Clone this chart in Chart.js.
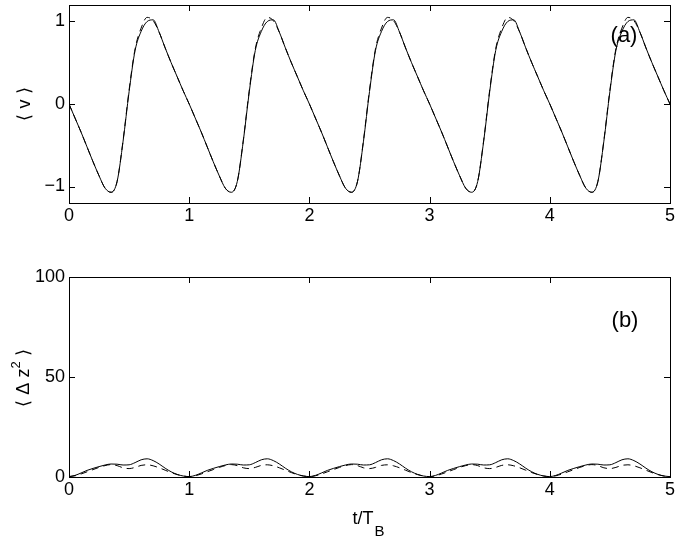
<!DOCTYPE html>
<html>
<head>
<meta charset="utf-8">
<script src="https://cdn.jsdelivr.net/npm/chart.js@4.4.1/dist/chart.umd.min.js"></script>
<style>
  body { margin: 0; background: #fff; }
  #wrap { position: relative; width: 681px; height: 536px; }
  canvas { position: absolute; left: 0; }
  #topChart { top: 0; }
  #bottomChart { top: 250px; }
</style>
</head>
<body>
<div id="wrap">
  <canvas id="topChart" width="681" height="250"></canvas>
  <canvas id="bottomChart" width="681" height="286"></canvas>
</div>
<script>
// time axis t/T_B, sampled every 0.05
const tValues = [
  0.00, 0.05, 0.10, 0.15, 0.20, 0.25, 0.30, 0.35, 0.40, 0.45, 0.50, 0.55, 0.60, 0.65, 0.70, 0.75, 0.80, 0.85, 0.90, 0.95,
  1.00, 1.05, 1.10, 1.15, 1.20, 1.25, 1.30, 1.35, 1.40, 1.45, 1.50, 1.55, 1.60, 1.65, 1.70, 1.75, 1.80, 1.85, 1.90, 1.95,
  2.00, 2.05, 2.10, 2.15, 2.20, 2.25, 2.30, 2.35, 2.40, 2.45, 2.50, 2.55, 2.60, 2.65, 2.70, 2.75, 2.80, 2.85, 2.90, 2.95,
  3.00, 3.05, 3.10, 3.15, 3.20, 3.25, 3.30, 3.35, 3.40, 3.45, 3.50, 3.55, 3.60, 3.65, 3.70, 3.75, 3.80, 3.85, 3.90, 3.95,
  4.00, 4.05, 4.10, 4.15, 4.20, 4.25, 4.30, 4.35, 4.40, 4.45, 4.50, 4.55, 4.60, 4.65, 4.70, 4.75, 4.80, 4.85, 4.90, 4.95,
  5.00
];

// panel (a): <v>
const vSolid = [
  0, -0.17, -0.34, -0.52, -0.70, -0.87, -1.02, -1.07, -0.94, -0.45, 0.15, 0.65, 0.88, 1.00, 1.02, 0.87, 0.68, 0.50, 0.33, 0.16,
  0, -0.17, -0.34, -0.52, -0.70, -0.87, -1.02, -1.07, -0.94, -0.45, 0.15, 0.65, 0.88, 1.00, 1.02, 0.87, 0.68, 0.50, 0.33, 0.16,
  0, -0.17, -0.34, -0.52, -0.70, -0.87, -1.02, -1.07, -0.94, -0.45, 0.15, 0.65, 0.88, 1.00, 1.02, 0.87, 0.68, 0.50, 0.33, 0.16,
  0, -0.17, -0.34, -0.52, -0.70, -0.87, -1.02, -1.07, -0.94, -0.45, 0.15, 0.65, 0.88, 1.00, 1.02, 0.87, 0.68, 0.50, 0.33, 0.16,
  0, -0.17, -0.34, -0.52, -0.70, -0.87, -1.02, -1.07, -0.94, -0.45, 0.15, 0.65, 0.88, 1.00, 1.02, 0.87, 0.68, 0.50, 0.33, 0.16,
  0
];
const vDashed = [
  0, -0.17, -0.34, -0.52, -0.70, -0.87, -1.02, -1.07, -0.94, -0.44, 0.17, 0.67, 0.92, 1.05, 1.01, 0.87, 0.68, 0.50, 0.33, 0.16,
  0, -0.17, -0.34, -0.52, -0.70, -0.87, -1.02, -1.07, -0.94, -0.44, 0.17, 0.67, 0.92, 1.05, 1.01, 0.87, 0.68, 0.50, 0.33, 0.16,
  0, -0.17, -0.34, -0.52, -0.70, -0.87, -1.02, -1.07, -0.94, -0.44, 0.17, 0.67, 0.92, 1.05, 1.01, 0.87, 0.68, 0.50, 0.33, 0.16,
  0, -0.17, -0.34, -0.52, -0.70, -0.87, -1.02, -1.07, -0.94, -0.44, 0.17, 0.67, 0.92, 1.05, 1.01, 0.87, 0.68, 0.50, 0.33, 0.16,
  0, -0.17, -0.34, -0.52, -0.70, -0.87, -1.02, -1.07, -0.94, -0.44, 0.17, 0.67, 0.92, 1.05, 1.01, 0.87, 0.68, 0.50, 0.33, 0.16,
  0
];

// panel (b): <dz^2>
const dzSolid = [
  0.2, 0.8, 2.0, 3.3, 4.3, 5.2, 6.0, 6.5, 6.4, 6.0, 6.1, 7.2, 8.6, 9.1, 8.2, 6.5, 4.4, 2.6, 1.3, 0.5,
  0.2, 0.8, 2.0, 3.3, 4.3, 5.2, 6.0, 6.5, 6.4, 6.0, 6.1, 7.2, 8.6, 9.1, 8.2, 6.5, 4.4, 2.6, 1.3, 0.5,
  0.2, 0.8, 2.0, 3.3, 4.3, 5.2, 6.0, 6.5, 6.4, 6.0, 6.1, 7.2, 8.6, 9.1, 8.2, 6.5, 4.4, 2.6, 1.3, 0.5,
  0.2, 0.8, 2.0, 3.3, 4.3, 5.2, 6.0, 6.5, 6.4, 6.0, 6.1, 7.2, 8.6, 9.1, 8.2, 6.5, 4.4, 2.6, 1.3, 0.5,
  0.2, 0.8, 2.0, 3.3, 4.3, 5.2, 6.0, 6.5, 6.4, 6.0, 6.1, 7.2, 8.6, 9.1, 8.2, 6.5, 4.4, 2.6, 1.3, 0.5,
  0.2
];
const dzDashed = [
  0.2, 0.6, 1.5, 2.6, 3.7, 4.8, 5.7, 6.2, 5.7, 4.6, 4.2, 4.8, 5.8, 6.1, 5.6, 4.6, 3.4, 2.2, 1.2, 0.5,
  0.2, 0.6, 1.5, 2.6, 3.7, 4.8, 5.7, 6.2, 5.7, 4.6, 4.2, 4.8, 5.8, 6.1, 5.6, 4.6, 3.4, 2.2, 1.2, 0.5,
  0.2, 0.6, 1.5, 2.6, 3.7, 4.8, 5.7, 6.2, 5.7, 4.6, 4.2, 4.8, 5.8, 6.1, 5.6, 4.6, 3.4, 2.2, 1.2, 0.5,
  0.2, 0.6, 1.5, 2.6, 3.7, 4.8, 5.7, 6.2, 5.7, 4.6, 4.2, 4.8, 5.8, 6.1, 5.6, 4.6, 3.4, 2.2, 1.2, 0.5,
  0.2, 0.6, 1.5, 2.6, 3.7, 4.8, 5.7, 6.2, 5.7, 4.6, 4.2, 4.8, 5.8, 6.1, 5.6, 4.6, 3.4, 2.2, 1.2, 0.5,
  0.2
];

const xTicks = [0, 1, 2, 3, 4, 5];
const yTicksTop = [-1, 0, 1];
const yTicksBottom = [0, 50, 100];

const FONT = "'Liberation Sans', Arial, Helvetica, sans-serif";

function toPoints(ys) {
    return tValues.map((t, i) => ({ x: t, y: ys[i] }));
}

function line(ys, dashed) {
    return {
        data: toPoints(ys),
        borderColor: "#000",
        borderWidth: 1,
        borderDash: dashed ? [7, 5] : [],
        pointRadius: 0,
        cubicInterpolationMode: "monotone",
        fill: false
    };
}

// box round the plot, ticks pointing inwards, panel letter and axis labels
const framePlugin = {
    id: "frame",
    afterDatasetsDraw(chart, args, opts) {
        const ctx = chart.ctx;
        const a = chart.chartArea;
        const xs = chart.scales.x;
        const ys = chart.scales.y;
        const len = 6;
        ctx.save();
        ctx.strokeStyle = "#000";
        ctx.lineWidth = 1;
        ctx.setLineDash([]);
        ctx.strokeRect(Math.round(a.left) + 0.5, Math.round(a.top) + 0.5,
            Math.round(a.right - a.left), Math.round(a.bottom - a.top));
        ctx.beginPath();
        xTicks.forEach(v => {
            const px = Math.round(xs.getPixelForValue(v)) + 0.5;
            ctx.moveTo(px, a.bottom); ctx.lineTo(px, a.bottom - len);
            ctx.moveTo(px, a.top); ctx.lineTo(px, a.top + len);
        });
        opts.yTicks.forEach(v => {
            const py = Math.round(ys.getPixelForValue(v)) + 0.5;
            ctx.moveTo(a.left, py); ctx.lineTo(a.left + len, py);
            ctx.moveTo(a.right, py); ctx.lineTo(a.right - len, py);
        });
        ctx.stroke();

        ctx.fillStyle = "#000";
        ctx.font = "22px " + FONT;
        ctx.textAlign = "center";
        ctx.textBaseline = "alphabetic";
        ctx.fillText(opts.panel, opts.panelX, opts.panelY);

        // y label, rotated
        ctx.save();
        ctx.translate(opts.yLabelX, opts.yLabelY);
        ctx.rotate(-Math.PI / 2);
        ctx.textBaseline = "middle";
        ctx.font = "18px " + FONT;
        if (opts.yLabelSup) {
            const pre = opts.yLabel;
            const post = " \u27E9";
            const w1 = ctx.measureText(pre).width;
            const w3 = ctx.measureText(post).width;
            ctx.font = "13px " + FONT;
            const w2 = ctx.measureText(opts.yLabelSup).width;
            const x0 = -(w1 + w2 + w3) / 2;
            ctx.textAlign = "left";
            ctx.font = "18px " + FONT;
            ctx.fillText(pre, x0, 0);
            ctx.font = "13px " + FONT;
            ctx.fillText(opts.yLabelSup, x0 + w1, -8);
            ctx.font = "18px " + FONT;
            ctx.fillText(post, x0 + w1 + w2, 0);
        } else {
            ctx.textAlign = "center";
            ctx.fillText(opts.yLabel, 0, 0);
        }
        ctx.restore();

        // x label with subscript
        if (opts.xLabel) {
            ctx.font = "18px " + FONT;
            const w1 = ctx.measureText(opts.xLabel).width;
            ctx.font = "15px " + FONT;
            const w2 = ctx.measureText(opts.xLabelSub).width;
            const x0 = opts.xLabelX - (w1 + w2) / 2;
            ctx.textAlign = "left";
            ctx.font = "18px " + FONT;
            ctx.fillText(opts.xLabel, x0, opts.xLabelY);
            ctx.font = "15px " + FONT;
            ctx.fillText(opts.xLabelSub, x0 + w1 + 1, opts.xLabelY + 12);
        }
        ctx.restore();
    }
};

function makeOptions(yMin, yMax, yTicks, padTop, xHeight, frame) {
    return {
        responsive: false,
        animation: false,
        events: [],
        layout: { padding: { left: 0, top: padTop, right: 11, bottom: 0 } },
        plugins: {
            legend: { display: false },
            tooltip: { enabled: false },
            frame: frame
        },
        scales: {
            x: {
                type: "linear",
                min: 0,
                max: 5,
                grid: { display: false, drawTicks: false },
                border: { display: false },
                afterBuildTicks: s => { s.ticks = xTicks.map(v => ({ value: v })); },
                afterFit: s => { s.height = xHeight; s.paddingLeft = 0; s.paddingRight = 0; },
                ticks: {
                    padding: 2,
                    color: "#000",
                    font: { family: FONT, size: 18 },
                    callback: v => String(v)
                }
            },
            y: {
                type: "linear",
                min: yMin,
                max: yMax,
                grid: { display: false, drawTicks: false },
                border: { display: false },
                afterBuildTicks: s => { s.ticks = yTicks.map(v => ({ value: v })); },
                afterFit: s => { s.width = 69; s.paddingTop = 0; s.paddingBottom = 0; },
                ticks: {
                    padding: 4,
                    color: "#000",
                    font: { family: FONT, size: 18 },
                    callback: v => (v < 0 ? "\u2212" + Math.abs(v) : String(v))
                }
            }
        }
    };
}

new Chart(document.getElementById("topChart").getContext("2d"), {
    type: "line",
    data: { datasets: [line(vDashed, true), line(vSolid, false)] },
    options: makeOptions(-1.2, 1.2, yTicksTop, 5, 47, {
        yTicks: yTicksTop,
        panel: "(a)", panelX: 624, panelY: 42,
        yLabel: "\u27E8 v \u27E9", yLabelX: 25, yLabelY: 104
    }),
    plugins: [framePlugin]
});

new Chart(document.getElementById("bottomChart").getContext("2d"), {
    type: "line",
    data: { datasets: [line(dzDashed, true), line(dzSolid, false)] },
    options: makeOptions(0, 100, yTicksBottom, 27, 59, {
        yTicks: yTicksBottom,
        panel: "(b)", panelX: 625, panelY: 77,
        yLabel: "\u27E8 \u0394 z", yLabelSup: "2", yLabelX: 24, yLabelY: 128,
        xLabel: "t/T", xLabelSub: "B", xLabelX: 368, xLabelY: 274
    }),
    plugins: [framePlugin]
});
</script>
</body>
</html>
